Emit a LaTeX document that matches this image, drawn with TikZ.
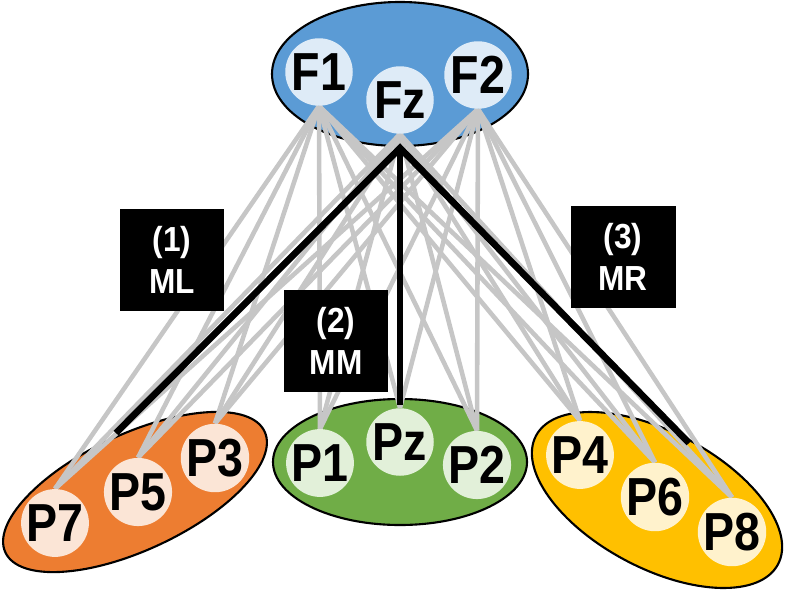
\documentclass[tikz,border=0pt]{standalone}
\usepackage{fontspec}
\setmainfont{Liberation Sans}
\usepackage{xcolor}
\usepackage{graphicx}
\usetikzlibrary{arrows.meta}
\pgfdeclarelayer{back}
\pgfdeclarelayer{wires}
\pgfsetlayers{back,wires,main}
\definecolor{fblue}{RGB}{91,155,213}
\definecolor{fbluel}{RGB}{222,235,247}
\definecolor{porange}{RGB}{237,125,49}
\definecolor{porangel}{RGB}{251,229,214}
\definecolor{pgreen}{RGB}{112,173,71}
\definecolor{pgreenl}{RGB}{226,240,217}
\definecolor{pyellow}{RGB}{255,192,0}
\definecolor{pyellowl}{RGB}{255,242,204}
\definecolor{wiregray}{RGB}{198,198,198}
\newcommand\tallname[1]{\scalebox{1}[1.15]{#1}}
\newcommand\tagname[2]{\scalebox{1}[1.1]{#1}\\\scalebox{1}[1.1]{#2}}
\tikzset{
 elec/.style={circle,inner sep=0pt,minimum size=1.35cm,font=\fontsize{26.5}{26.5}\selectfont\bfseries},
 region/.style={draw=black,line width=1.2pt},
 wire/.style={line width=2.6pt,draw=wiregray},
 trunk/.style={line width=3.8pt,draw=black},
 tag/.style={fill=black,text=white,minimum width=2.1cm,minimum height=2.04cm,inner sep=0pt,
   align=center,font=\fontsize{18}{24}\selectfont\bfseries}
}
\begin{document}
\begin{tikzpicture}[x=0.02cm,y=-0.02cm]
\useasboundingbox (0,0) rectangle (786,591);
% frontal electrodes
\node[elec,fill=fbluel] (F1) at (319,72) {\tallname{F1}};
\node[elec,fill=fbluel] (Fz) at (400,100) {\tallname{Fz}};
\node[elec,fill=fbluel] (F2) at (478,75) {\tallname{F2}};
% parietal electrodes
\node[elec,fill=porangel] (P7) at (55,523) {\tallname{P7}};
\node[elec,fill=porangel] (P5) at (138,492) {\tallname{P5}};
\node[elec,fill=porangel] (P3) at (215,458) {\tallname{P3}};
\node[elec,fill=pgreenl] (P1) at (320,463) {\tallname{P1}};
\node[elec,fill=pgreenl] (Pz) at (400,442) {\tallname{Pz}};
\node[elec,fill=pgreenl] (P2) at (477,465) {\tallname{P2}};
\node[elec,fill=pyellowl] (P4) at (580,455) {\tallname{P4}};
\node[elec,fill=pyellowl] (P6) at (655,497) {\tallname{P6}};
\node[elec,fill=pyellowl] (P8) at (732,532) {\tallname{P8}};
\begin{pgfonlayer}{back}
\draw[region,fill=fblue] (400,74) ellipse [x radius=128,y radius=72];
\draw[region,fill=pgreen] (400,462) ellipse [x radius=127,y radius=63];
\draw[region,fill=porange,shift={(135,492)},rotate=25] (0,0) ellipse [x radius=143,y radius=58];
\draw[region,fill=pyellow,shift={(657,500)},rotate=-28] (0,0) ellipse [x radius=137,y radius=68];
\end{pgfonlayer}
\begin{pgfonlayer}{wires}
\foreach \f in {F1,Fz,F2}
  \foreach \p in {P7,P5,P3,P1,Pz,P2,P4,P6,P8}
    \draw[wire] (\f.south) -- (\p.north);
\coordinate (apex) at (400,148);
\coordinate (endL) at (116,433);
\coordinate (endM) at (400,405);
\coordinate (endR) at (689,443);
\draw[trunk] (endL) -- (apex) -- (endR);
\draw[trunk] (apex) -- (endM);
\end{pgfonlayer}
% midline groups
\node[tag] (ML) at (172,260) {\tagname{(1)}{ML}};
\node[tag] (MM) at (336,341) {\tagname{(2)}{MM}};
\node[tag] (MR) at (623,257) {\tagname{(3)}{MR}};
\end{tikzpicture}
\end{document}
